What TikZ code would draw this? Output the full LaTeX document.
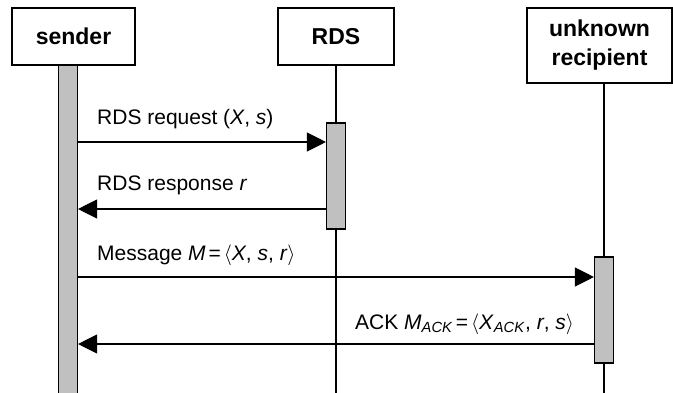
\documentclass[tikz,border=0pt]{standalone}
\usepackage{fontspec}
\setmainfont{Liberation Sans}
\usetikzlibrary{arrows.meta}
\definecolor{barfill}{RGB}{192,192,192}
\newcommand{\eqsp}{\hspace{0.14em}=\hspace{0.14em}}
\begin{document}
\begin{tikzpicture}[x=1pt,y=-1pt,
  title/.style={draw, line width=1.3pt, fill=white, font=\fontsize{23}{29}\selectfont\bfseries, align=center, inner sep=0pt},
  bar/.style={draw, line width=1.1pt, fill=barfill, inner sep=0pt, minimum width=19pt},
  life/.style={line width=1.1pt},
  msg/.style={line width=1.1pt, -{Triangle[length=19pt,width=19pt]}},
  lbl/.style={font=\fontsize{21}{25}\selectfont, anchor=base west, inner sep=0pt}]
\useasboundingbox (0,0) rectangle (673,392);
% participants
\node[title, minimum width=123pt, minimum height=57pt] (sender) at (73.5,36.5) {sender};
\node[title, minimum width=116pt, minimum height=57pt] (rds) at (336,36.5) {RDS};
\node[title, minimum width=145pt, minimum height=75pt] (rcp) at (599.5,45.5) {unknown\\recipient};
% lifelines
\coordinate (rdsend) at (336,393);
\coordinate (rcpx) at (604,393);
\draw[life] (rds.south) -- (rdsend);
\draw[life] (rcp.south -| rcpx) -- (rcpx);
% activation bars
\node[bar, minimum height=330pt, anchor=north] (sbar) at (68,65) {};
\node[bar, minimum height=106pt] (rdsbar) at (336,176) {};
\node[bar, minimum height=106pt] (rcpbar) at (604,310) {};
% message rows
\coordinate (y1) at (0,142);
\coordinate (y2) at (0,209);
\coordinate (y3) at (0,277);
\coordinate (y4) at (0,344);
\draw[msg] (sbar.east |- y1) -- (rdsbar.west |- y1);
\draw[msg] (rdsbar.west |- y2) -- (sbar.east |- y2);
\draw[msg] (sbar.east |- y3) -- (rcpbar.west |- y3);
\draw[msg] (rcpbar.west |- y4) -- (sbar.east |- y4);
% labels
\node[lbl] (l1) at (97,124) {RDS request (\textit{X}, \textit{s})};
\node[lbl] (l2) at (97,190) {RDS response \textit{r}};
\node[lbl] (l3) at (97,260) {Message \textit{M}\eqsp$\langle$\textit{X}, \textit{s}, \textit{r}$\rangle$};
\node[lbl] (l4) at (355,329) {ACK \textit{M}\textsubscript{\textit{ACK}}\eqsp$\langle$\textit{X}\textsubscript{\textit{ACK}}, \textit{r}, \textit{s}$\rangle$};
\end{tikzpicture}
\end{document}
